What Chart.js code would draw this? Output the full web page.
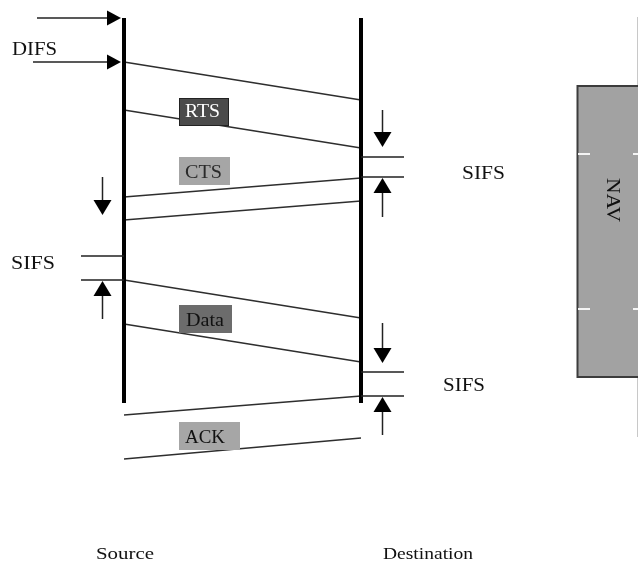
<!DOCTYPE html>
<html>
<head>
<meta charset="utf-8">
<script src="https://cdn.jsdelivr.net/npm/chart.js@4"></script>
<style>
	body{margin:0;background:#fff;}
	#diagrama{display:block;}
</style>
</head>
<body>
<canvas id="diagrama" width="638" height="563"></canvas>
<script>

// estaciones (eje x: 0 = Source, 1 = Destination)
var estaciones = ['Source', 'Destination'];
var inicioTiempo = 18;
var finTiempo = 403;

// tramas: quien envia y tiempos de los bordes (inicio / fin) en emisor y receptor
var tramas = ['RTS', 'CTS', 'Data', 'ACK'];
var tramaEmisor = [0, 1, 0, 1];
var tramaInicioTx = [62, 178, 280, 396];
var tramaInicioRx = [100, 197, 318, 415];
var tramaFinTx = [110, 201, 324, 438];
var tramaFinRx = [148, 220, 362, 459];

// intervalos entre tramas
var intervalos = ['DIFS', 'SIFS', 'SIFS', 'SIFS'];
var intervaloEstacion = [0, 1, 0, 1];
var intervaloInicio = [18, 157, 256, 372];
var intervaloFin = [62, 177, 280, 396];
var flechaBajaDesde = [null, 110, 177, 323];
var flechaBajaHasta = [null, 147, 215, 363];
var flechaSubeHasta = [null, 217, 319, 435];

// NAV en el resto de estaciones
var navNombre = 'NAV';
var navInicio = 86;
var navFin = 377;

// estilo (no son datos)
var fuente = '"Liberation Serif", "DejaVu Serif", serif';
var colorCaja = {'RTS': ['#4b4b4b', '#ffffff'], 'CTS': ['#a6a6a6', '#2a2a2a'], 'Data': ['#6c6c6c', '#111111'], 'ACK': ['#a6a6a6', '#111111']};
var anchoCaja = {'RTS': 50, 'CTS': 51, 'Data': 53, 'ACK': 61};
var centroCaja = [112, 171, 319, 436];
var textoCaja = [[185, 117, 35], [185, 178, 37], [186, 326, 38], [185, 443, 40]]; // x, linea base, ancho
var textoIntervalo = [[12, 55, 45], [462, 179, 43], [11, 269, 44], [443, 391, 42]];

function linea(puntos, ancho, color){
	return {
		data: puntos,
		showLine: true,
		borderColor: color,
		borderWidth: ancho,
		pointRadius: 0,
		borderCapStyle: 'butt',
		fill: false
	};
}

var conjuntos = [];
for (var e = 0; e < estaciones.length; e++) {
	conjuntos.push(linea([{x: e, y: inicioTiempo}, {x: e, y: finTiempo}], 4, '#000'));
}
for (var t = 0; t < tramas.length; t++) {
	var a = tramaEmisor[t], b = 1 - tramaEmisor[t];
	conjuntos.push(linea([{x: a, y: tramaInicioTx[t]}, {x: b, y: tramaInicioRx[t]}], 1.6, '#2e2e2e'));
	conjuntos.push(linea([{x: a, y: tramaFinTx[t]}, {x: b, y: tramaFinRx[t]}], 1.6, '#2e2e2e'));
}

function flecha(ctx, x1, y1, x2, y2, largo, ancho){
	var ang = Math.atan2(y2 - y1, x2 - x1);
	ctx.beginPath();
	ctx.moveTo(x1, y1);
	ctx.lineTo(x2 - Math.cos(ang) * largo, y2 - Math.sin(ang) * largo);
	ctx.stroke();
	ctx.save();
	ctx.translate(x2, y2);
	ctx.rotate(ang);
	ctx.beginPath();
	ctx.moveTo(0, 0);
	ctx.lineTo(-largo, -ancho / 2);
	ctx.lineTo(-largo, ancho / 2);
	ctx.closePath();
	ctx.fill();
	ctx.restore();
}

// texto estirado a un ancho dado (la imagen original esta estirada en horizontal)
function texto(ctx, txt, x, base, ancho, tam, color){
	ctx.save();
	ctx.font = tam + 'px ' + fuente;
	ctx.fillStyle = color;
	ctx.textAlign = 'left';
	ctx.textBaseline = 'alphabetic';
	var m = ctx.measureText(txt).width;
	ctx.translate(x, base);
	ctx.scale(ancho / m, 1);
	ctx.fillText(txt, 0, 0);
	ctx.restore();
}

var anotaciones = {
	id: 'anotaciones',
	afterDatasetsDraw: function(chart){
		var ctx = chart.ctx;
		var ex = chart.scales.x, ey = chart.scales.y;
		ctx.save();
		ctx.strokeStyle = '#222';
		ctx.fillStyle = '#000';
		ctx.lineWidth = 1.5;

		// intervalos
		for (var i = 0; i < intervalos.length; i++) {
			var px = ex.getPixelForValue(intervaloEstacion[i]);
			var y1 = ey.getPixelForValue(intervaloInicio[i]);
			var y2 = ey.getPixelForValue(intervaloFin[i]);
			var tp = textoIntervalo[i];
			ctx.fillStyle = '#000';
			if (intervalos[i] === 'DIFS') {
				flecha(ctx, px - 87, y1, px - 3, y1, 14, 15);
				flecha(ctx, px - 91, y2, px - 3, y2, 14, 15);
			} else {
				var lado = intervaloEstacion[i] === 0 ? -1 : 1;
				ctx.beginPath();
				ctx.moveTo(px, y1); ctx.lineTo(px + lado * 43, y1);
				ctx.moveTo(px, y2); ctx.lineTo(px + lado * 43, y2);
				ctx.stroke();
				var fx = px + lado * 21.5;
				flecha(ctx, fx, ey.getPixelForValue(flechaBajaDesde[i]), fx, ey.getPixelForValue(flechaBajaHasta[i]), 15, 18);
				flecha(ctx, fx, ey.getPixelForValue(flechaSubeHasta[i]), fx, y2 + 1, 15, 18);
			}
			texto(ctx, intervalos[i], tp[0], tp[1], tp[2], 18, '#111');
		}

		// cajas de las tramas
		var xs = ex.getPixelForValue(0);
		for (var t = 0; t < tramas.length; t++) {
			var nombre = tramas[t];
			var cy = ey.getPixelForValue(centroCaja[t]);
			var w = anchoCaja[nombre], h = 28;
			var x0 = xs + 55;
			ctx.fillStyle = colorCaja[nombre][0];
			ctx.fillRect(x0, cy - h / 2, w, h);
			if (nombre === 'RTS') {
				ctx.strokeStyle = '#222';
				ctx.lineWidth = 1;
				ctx.strokeRect(x0 + 0.5, cy - h / 2 + 0.5, w - 1, h - 1);
			}
			var tc = textoCaja[t];
			texto(ctx, nombre, tc[0], tc[1], tc[2], 18, colorCaja[nombre][1]);
		}

		// NAV
		var ny1 = ey.getPixelForValue(navInicio);
		var ny2 = ey.getPixelForValue(navFin);
		var nx = 577.5;
		ctx.strokeStyle = '#c8c8c8';
		ctx.lineWidth = 1;
		ctx.beginPath();
		ctx.moveTo(637.5, ey.getPixelForValue(17));
		ctx.lineTo(637.5, ey.getPixelForValue(437));
		ctx.stroke();
		ctx.fillStyle = '#a2a2a2';
		ctx.fillRect(nx, ny1, 70, ny2 - ny1);
		ctx.strokeStyle = '#3c3c3c';
		ctx.lineWidth = 2;
		ctx.strokeRect(nx, ny1, 70, ny2 - ny1);
		ctx.strokeStyle = '#f4f4f4';
		ctx.lineWidth = 2;
		ctx.beginPath();
		[154, 309].forEach(function(v){
			var yy = ey.getPixelForValue(v);
			ctx.moveTo(578, yy); ctx.lineTo(590, yy);
			ctx.moveTo(633, yy); ctx.lineTo(638, yy);
		});
		ctx.stroke();
		ctx.save();
		ctx.translate(607, ey.getPixelForValue(178));
		ctx.rotate(Math.PI / 2);
		texto(ctx, navNombre, 0, 0, 44, 18, '#111');
		ctx.restore();

		// nombres de las estaciones
		texto(ctx, estaciones[0], 96, 559, 58, 16, '#111');
		texto(ctx, estaciones[1], 383, 559, 90, 16, '#111');
		ctx.restore();
	}
};

var grafica = new Chart(document.getElementById('diagrama'), {
	type: 'scatter',
	data: {datasets: conjuntos},
	options: {
		responsive: false,
		animation: false,
		clip: false,
		layout: {padding: 0},
		plugins: {legend: {display: false}, tooltip: {enabled: false}},
		scales: {
			x: {type: 'linear', display: false, min: -124 / 237, max: (638 - 124) / 237},
			y: {type: 'linear', display: false, reverse: true, min: 0, max: 563}
		}
	},
	plugins: [anotaciones]
});
</script>
</body>
</html>
